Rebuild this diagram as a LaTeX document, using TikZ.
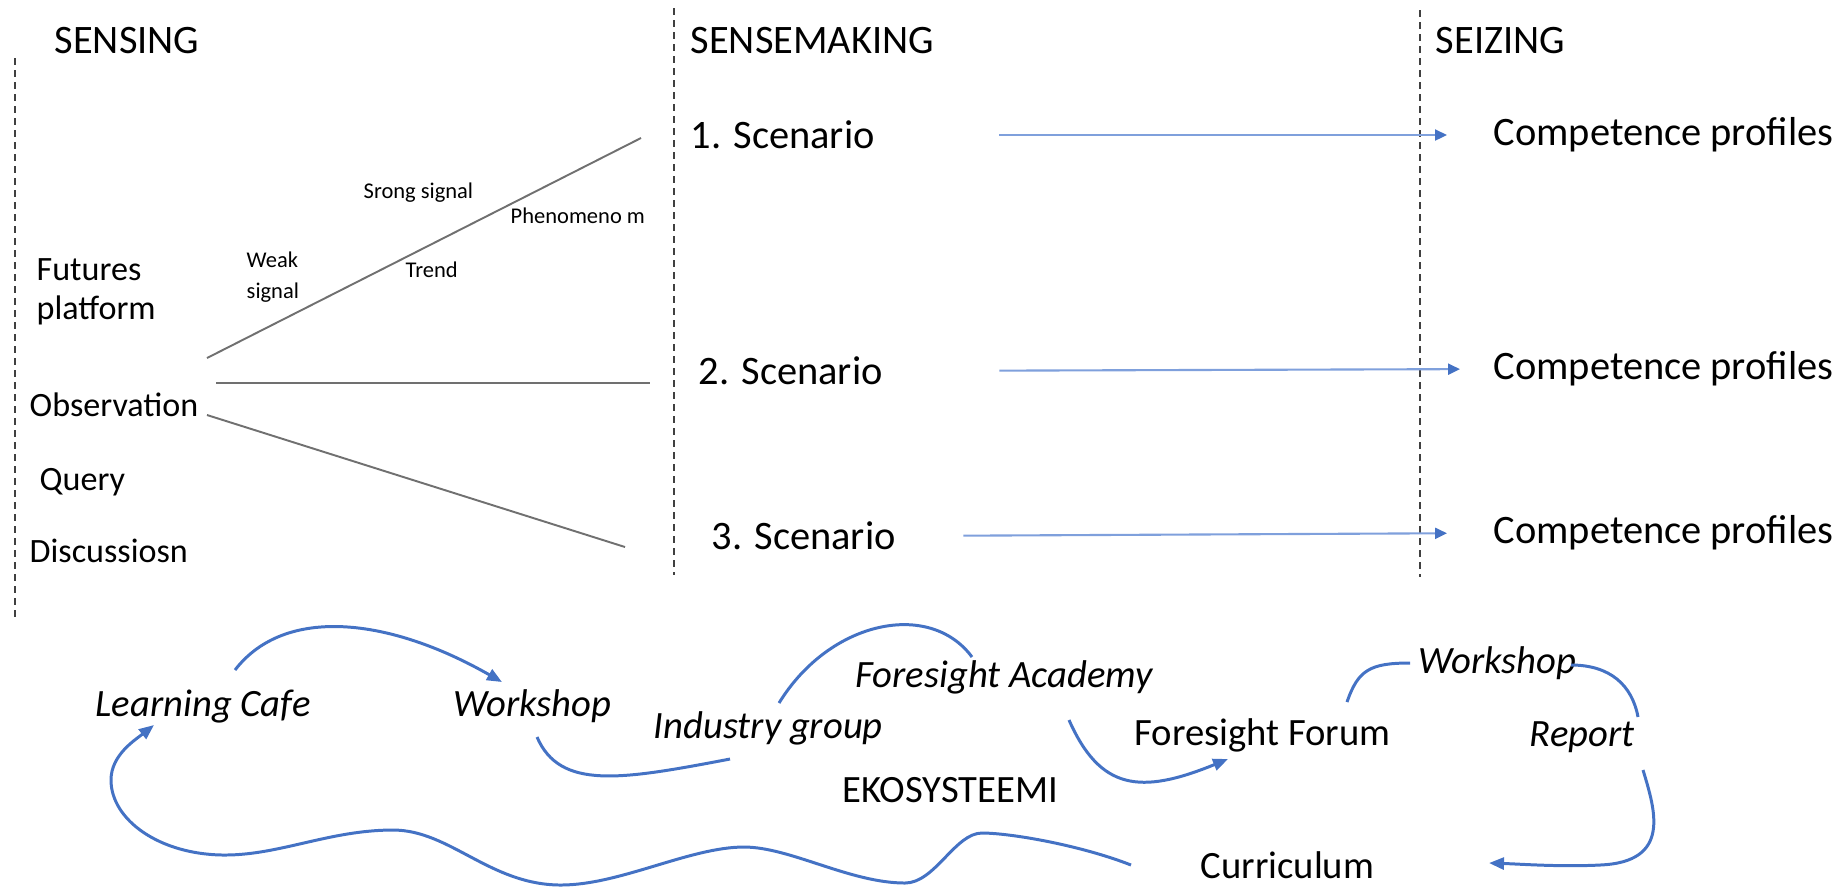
\documentclass[tikz,border=0pt]{standalone}
\usepackage{fontspec}
\setmainfont{Carlito}
\usetikzlibrary{arrows.meta}
\definecolor{linegray}{HTML}{707070}
\definecolor{dashgray}{HTML}{404040}
\definecolor{flowblue}{HTML}{7FA0DC}
\definecolor{waveblue}{HTML}{4472C4}

\begin{document}
\begin{tikzpicture}[%
      x=0.1mm, y=-0.1mm,
      every node/.style={inner sep=0pt, anchor=west},
      head/.style={font=\fontsize{11.5}{14}\selectfont},
      side/.style={font=\fontsize{9.7}{12}\selectfont},
      note/.style={font=\fontsize{6.4}{9}\selectfont},
      scen/.style={font=\fontsize{11.5}{14}\selectfont},
      eco/.style={font=\fontsize{11}{13}\selectfont},
      ecoit/.style={font=\fontsize{11}{13}\selectfont\itshape},
      phase/.style={color=dashgray, line width=0.45pt, dash pattern=on 0.7mm off 0.5mm},
      fan/.style={color=linegray, line width=0.55pt},
      flow/.style={color=flowblue, line width=0.6pt, -{Triangle[length=1.2mm,width=1.1mm,color=waveblue]}},
      wave/.style={color=waveblue, line width=0.85pt},
      wavetip/.style={-{Triangle[length=1.5mm,width=1.2mm]}},
      ]
      \useasboundingbox (0,0) rectangle (1844,887);

      % phases
      \draw [phase] (15,58) -- (15,617);
      \draw [phase] (674,8) -- (674,575);
      \draw [phase] (1420,10) -- (1420,577);

      \node [head] (sensing) at (54,41) {SENSING};
      \node [head] (sensemaking) at (690,41) {SENSEMAKING};
      \node [head] (seizing) at (1435,41) {SEIZING};

      % sensing
      \node [side] (futures) at (36,270) {Futures};
      \node [side] (platform) at (36,310) {platform};
      \node [side] (observ) at (29,405) {Observation};
      \node [side] (query) at (39,482) {Query};
      \node [side] (discus) at (29,551) {Discussiosn};

      \node [note, align=left] (weak) at (246,277) {Weak\\signal};
      \node [note] (srong) at (363,193) {Srong signal};
      \node [note] (trend) at (405,270) {Trend};
      \node [note] (phenom) at (510,216) {Phenomeno m};

      \coordinate (fanupL) at (207,358);
      \coordinate (fanupR) at (641,138);
      \coordinate (fanmidL) at (216,383);
      \coordinate (fanmidR) at (650,383);
      \coordinate (fanlowL) at (207,415);
      \coordinate (fanlowR) at (625,547);
      \draw [fan] (fanupL) -- (fanupR);
      \draw [fan] (fanmidL) -- (fanmidR);
      \draw [fan] (fanlowL) -- (fanlowR);

      % sensemaking -> seizing
      \node [scen] (scen1) at (690,135) {1. Scenario};
      \node [scen] (scen2) at (698,371) {2. Scenario};
      \node [scen] (scen3) at (711,536) {3. Scenario};
      \node [scen] (comp1) at (1493,135) {Competence profiles};
      \node [scen] (comp2) at (1493,369) {Competence profiles};
      \node [scen] (comp3) at (1493,533) {Competence profiles};

      \draw [flow, shorten <=12.4mm, shorten >=4.6mm] (scen1.east) -- (comp1.west);
      \draw [flow, shorten <=11.6mm, shorten >=3.3mm] (scen2.east) -- (comp2.west);
      \draw [flow, shorten <=6.7mm, shorten >=4.6mm] (scen3.east) -- (comp3.west);

      % ecosystem
      \node [ecoit] (lcafe) at (95,706) {Learning Cafe};
      \node [ecoit] (wshopA) at (453,706) {Workshop};
      \node [ecoit] (indgrp) at (653,728) {Industry group};
      \node [ecoit] (fsacad) at (855,677) {Foresight Academy};
      \node [eco] (ekosys) at (842,790) {EKOSYSTEEMI};
      \node [eco] (fsforum) at (1134,735) {Foresight Forum};
      \node [ecoit] (wshopB) at (1418,663) {Workshop};
      \node [ecoit] (report) at (1529,737) {Report};
      \node [eco] (curric) at (1200,865) {Curriculum};

      \coordinate (lcafeOut) at (235,670);
      \coordinate (wshopAIn) at (502,682);
      \coordinate (wshopAOut) at (537,737);
      \coordinate (indgrpIn) at (730,759);
      \coordinate (indgrpOut) at (779,703);
      \coordinate (fsacadIn) at (972,657);
      \coordinate (fsacadOut) at (1069,720);
      \coordinate (fsforumIn) at (1228,759);
      \coordinate (fsforumOut) at (1347,702);
      \coordinate (wshopBIn) at (1410,663);
      \coordinate (wshopBOut) at (1571,665);
      \coordinate (reportIn) at (1638,717);
      \coordinate (reportOut) at (1643,770);
      \coordinate (curricIn) at (1489,863);
      \coordinate (curricOut) at (1131,865);
      \coordinate (lcafeIn) at (154,725);

      \draw [wave, wavetip] (lcafeOut) .. controls (285,605) and (390,618) .. (wshopAIn);
      \draw [wave] (wshopAOut) .. controls (560,790) and (620,780) .. (indgrpIn);
      \draw [wave] (indgrpOut) .. controls (830,620) and (930,600) .. (fsacadIn);
      \draw [wave, wavetip] (fsacadOut) .. controls (1100,790) and (1140,795) .. (fsforumIn);
      \draw [wave] (fsforumOut) .. controls (1358,670) and (1370,663) .. (wshopBIn);
      \draw [wave] (wshopBOut) .. controls (1610,665) and (1632,685) .. (reportIn);
      \draw [wave, wavetip] (reportOut) .. controls (1655,810) and (1672,862) .. (1600,865)
            .. controls (1560,867) and (1520,864) .. (curricIn);
      \draw [wave, wavetip] (curricOut) .. controls (1080,845) and (1010,833) .. (982,833)
            .. controls (955,833) and (935,883) .. (905,883)
            .. controls (850,883) and (790,847) .. (744,847)
            .. controls (690,847) and (620,885) .. (561,885)
            .. controls (490,885) and (450,830) .. (393,830)
            .. controls (330,830) and (280,855) .. (225,855)
            .. controls (160,855) and (111,820) .. (111,780)
            .. controls (111,755) and (135,740) .. (lcafeIn);
\end{tikzpicture}
\end{document}
